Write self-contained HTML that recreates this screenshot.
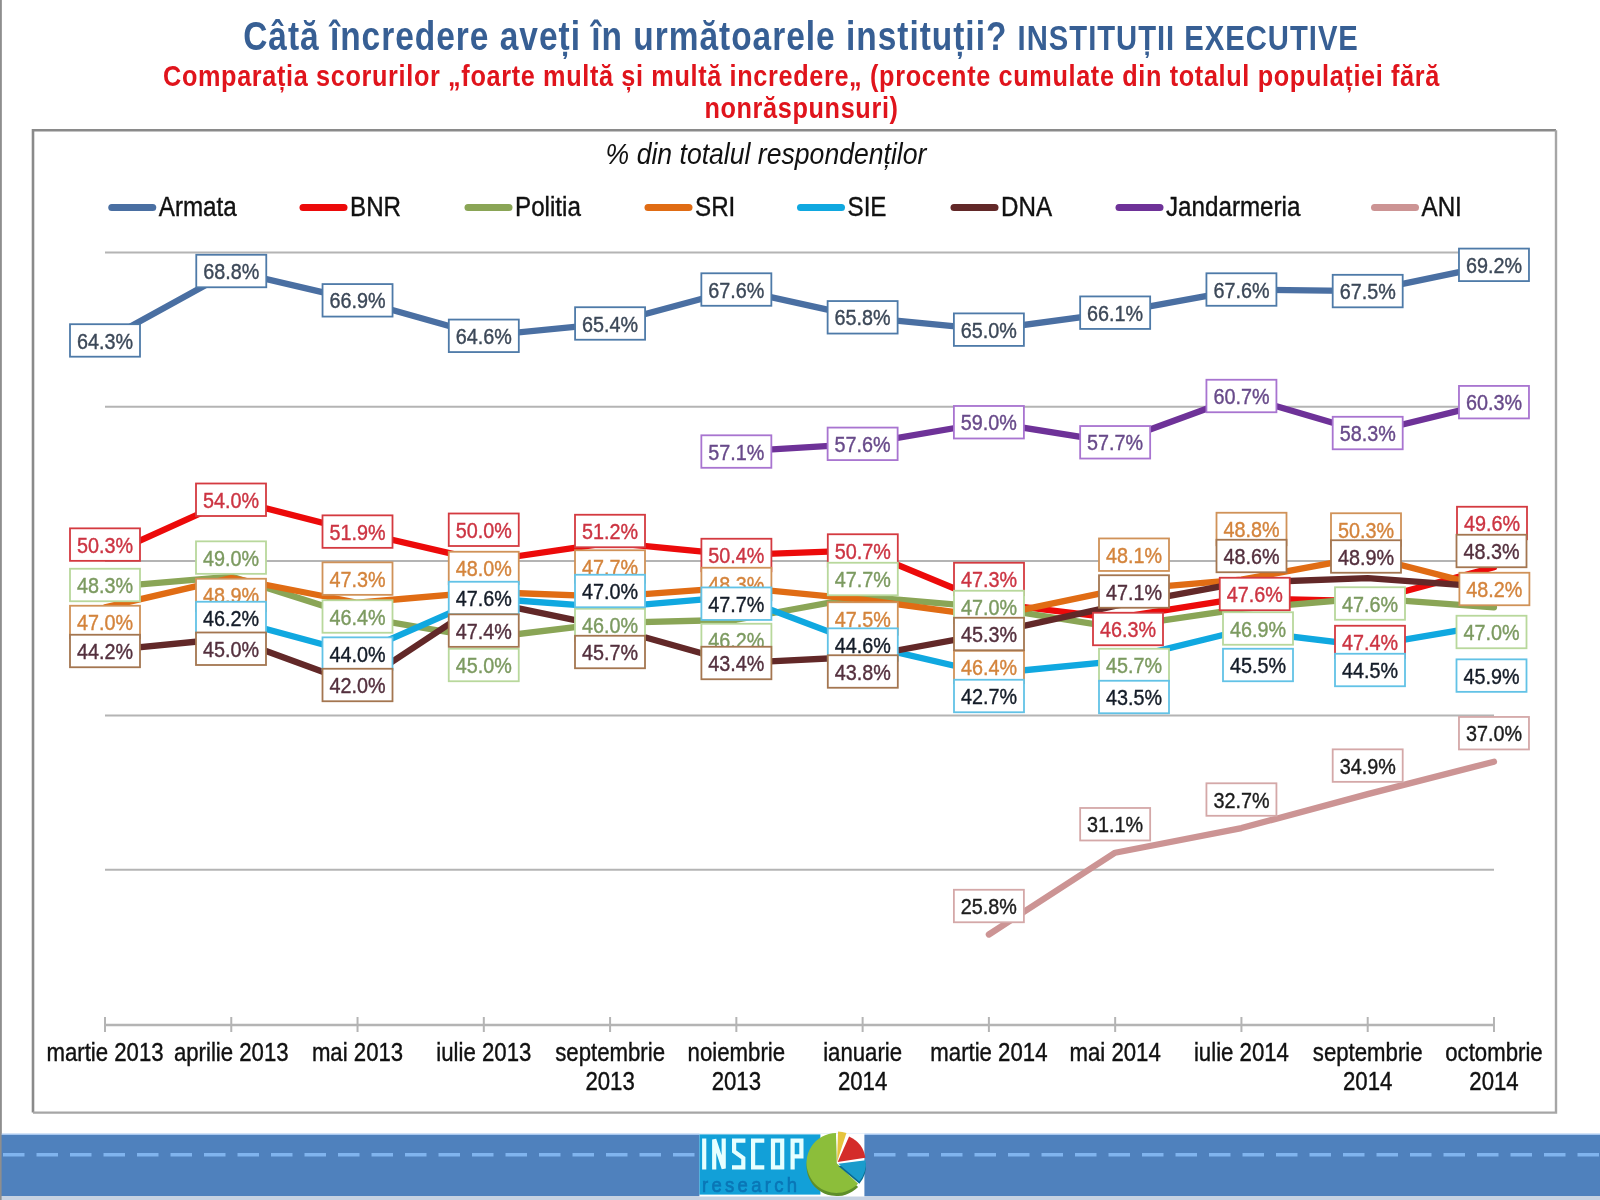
<!DOCTYPE html>
<html><head><meta charset="utf-8">
<style>
html,body{margin:0;padding:0;background:#fff;}
body{width:1600px;height:1200px;overflow:hidden;position:relative;font-family:"Liberation Sans",sans-serif;}
svg{position:absolute;left:0;top:0;filter:blur(0.55px);}
</style></head><body>
<svg width="1600" height="1200" viewBox="0 0 1600 1200" font-family="Liberation Sans, sans-serif">
<rect x="0" y="0" width="1.6" height="1200" fill="#8e8e8e"/>
<text transform="translate(801 50) scale(0.94 1.13)" text-anchor="middle" font-weight="bold" fill="#375f94" letter-spacing="1.05"><tspan font-size="35.6">Câtă încredere aveți în următoarele instituții? </tspan><tspan font-size="31.1">INSTITUȚII EXECUTIVE</tspan></text>
<text transform="translate(801.5 86) scale(0.95 1.13)" text-anchor="middle" font-weight="bold" font-size="26.6" fill="#e0141c" letter-spacing="0.68">Comparația scorurilor „foarte multă și multă incredere„ (procente cumulate din totalul populației fără</text>
<text transform="translate(801.5 117.5) scale(0.95 1.13)" text-anchor="middle" font-weight="bold" font-size="26.6" fill="#e0141c" letter-spacing="0.68">nonrăspunsuri)</text>
<rect x="33" y="130.2" width="1523" height="982.4" fill="#fff"/>
<path d="M33,1112.6 V130.2 H1556" fill="none" stroke="#8a8a8a" stroke-width="2.6"/>
<path d="M1556,130.2 V1112.6 H33" fill="none" stroke="#a6a6a6" stroke-width="2.4"/>
<text transform="translate(766 163.8) scale(1 1.13)" text-anchor="middle" font-style="italic" font-size="26.6" fill="#111">% din totalul respondenților</text>
<line x1="105" y1="252.50" x2="1494" y2="252.50" stroke="#b4b4b4" stroke-width="2"/>
<line x1="105" y1="406.80" x2="1494" y2="406.80" stroke="#b4b4b4" stroke-width="2"/>
<line x1="105" y1="561.10" x2="1494" y2="561.10" stroke="#b4b4b4" stroke-width="2"/>
<line x1="105" y1="715.40" x2="1494" y2="715.40" stroke="#b4b4b4" stroke-width="2"/>
<line x1="105" y1="869.70" x2="1494" y2="869.70" stroke="#b4b4b4" stroke-width="2"/>
<line x1="105" y1="1025.00" x2="1494" y2="1025.00" stroke="#b4b4b4" stroke-width="2.5"/>
<line x1="105.00" y1="1017.00" x2="105.00" y2="1032.00" stroke="#b4b4b4" stroke-width="2"/>
<line x1="231.27" y1="1017.00" x2="231.27" y2="1032.00" stroke="#b4b4b4" stroke-width="2"/>
<line x1="357.54" y1="1017.00" x2="357.54" y2="1032.00" stroke="#b4b4b4" stroke-width="2"/>
<line x1="483.81" y1="1017.00" x2="483.81" y2="1032.00" stroke="#b4b4b4" stroke-width="2"/>
<line x1="610.08" y1="1017.00" x2="610.08" y2="1032.00" stroke="#b4b4b4" stroke-width="2"/>
<line x1="736.35" y1="1017.00" x2="736.35" y2="1032.00" stroke="#b4b4b4" stroke-width="2"/>
<line x1="862.62" y1="1017.00" x2="862.62" y2="1032.00" stroke="#b4b4b4" stroke-width="2"/>
<line x1="988.89" y1="1017.00" x2="988.89" y2="1032.00" stroke="#b4b4b4" stroke-width="2"/>
<line x1="1115.16" y1="1017.00" x2="1115.16" y2="1032.00" stroke="#b4b4b4" stroke-width="2"/>
<line x1="1241.43" y1="1017.00" x2="1241.43" y2="1032.00" stroke="#b4b4b4" stroke-width="2"/>
<line x1="1367.70" y1="1017.00" x2="1367.70" y2="1032.00" stroke="#b4b4b4" stroke-width="2"/>
<line x1="1493.97" y1="1017.00" x2="1493.97" y2="1032.00" stroke="#b4b4b4" stroke-width="2"/>
<polyline points="105.00,340.45 231.27,271.02 357.54,300.33 483.81,335.82 610.08,323.48 736.35,289.53 862.62,317.31 988.89,329.65 1115.16,312.68 1241.43,289.53 1367.70,291.07 1493.97,264.84" fill="none" stroke="#4a6fa2" stroke-width="6.3" stroke-linejoin="round" stroke-linecap="round"/>
<polyline points="105.00,556.47 231.27,499.38 357.54,531.78 483.81,561.10 610.08,542.58 736.35,554.93 862.62,550.30 988.89,602.76 1115.16,618.19 1241.43,598.13 1367.70,601.22 1493.97,567.27" fill="none" stroke="#ec0a0a" stroke-width="6.3" stroke-linejoin="round" stroke-linecap="round"/>
<polyline points="105.00,587.33 231.27,576.53 357.54,616.65 483.81,638.25 610.08,622.82 736.35,619.73 862.62,596.59 988.89,607.39 1115.16,627.45 1241.43,608.93 1367.70,598.13 1493.97,607.39" fill="none" stroke="#8aa556" stroke-width="6.3" stroke-linejoin="round" stroke-linecap="round"/>
<polyline points="105.00,607.39 231.27,578.07 357.54,602.76 483.81,591.96 610.08,596.59 736.35,587.33 862.62,599.67 988.89,616.65 1115.16,590.42 1241.43,579.62 1367.70,556.47 1493.97,588.87" fill="none" stroke="#e06c14" stroke-width="6.3" stroke-linejoin="round" stroke-linecap="round"/>
<polyline points="231.27,619.73 357.54,653.68 483.81,598.13 610.08,607.39 736.35,596.59 862.62,644.42 988.89,673.74 1115.16,661.39 1241.43,630.53 1367.70,645.96 1493.97,624.36" fill="none" stroke="#10a8e0" stroke-width="6.3" stroke-linejoin="round" stroke-linecap="round"/>
<polyline points="105.00,650.59 231.27,638.25 357.54,684.54 483.81,601.22 610.08,627.45 736.35,662.94 862.62,656.77 988.89,633.62 1115.16,605.85 1241.43,582.70 1367.70,578.07 1493.97,587.33" fill="none" stroke="#622828" stroke-width="6.3" stroke-linejoin="round" stroke-linecap="round"/>
<polyline points="736.35,451.55 862.62,443.83 988.89,422.23 1115.16,442.29 1241.43,396.00 1367.70,433.03 1493.97,402.17" fill="none" stroke="#6e3298" stroke-width="6.3" stroke-linejoin="round" stroke-linecap="round"/>
<polyline points="988.89,934.51 1115.16,852.73 1241.43,828.04 1367.70,794.09 1493.97,761.69" fill="none" stroke="#cc9494" stroke-width="6.3" stroke-linejoin="round" stroke-linecap="round"/>
<rect x="70.00" y="324.20" width="70" height="32.5" fill="#fff" stroke="#4e7aa8" stroke-width="1.8"/>
<text transform="translate(105.00 348.53) scale(1 1.14)" font-size="19.8" fill="#3c4858" stroke="#3c4858" stroke-width="0.35" text-anchor="middle" >64.3%</text>
<rect x="196.27" y="254.77" width="70" height="32.5" fill="#fff" stroke="#4e7aa8" stroke-width="1.8"/>
<text transform="translate(231.27 279.10) scale(1 1.14)" font-size="19.8" fill="#3c4858" stroke="#3c4858" stroke-width="0.35" text-anchor="middle" >68.8%</text>
<rect x="322.54" y="284.08" width="70" height="32.5" fill="#fff" stroke="#4e7aa8" stroke-width="1.8"/>
<text transform="translate(357.54 308.41) scale(1 1.14)" font-size="19.8" fill="#3c4858" stroke="#3c4858" stroke-width="0.35" text-anchor="middle" >66.9%</text>
<rect x="448.81" y="319.57" width="70" height="32.5" fill="#fff" stroke="#4e7aa8" stroke-width="1.8"/>
<text transform="translate(483.81 343.90) scale(1 1.14)" font-size="19.8" fill="#3c4858" stroke="#3c4858" stroke-width="0.35" text-anchor="middle" >64.6%</text>
<rect x="575.08" y="307.23" width="70" height="32.5" fill="#fff" stroke="#4e7aa8" stroke-width="1.8"/>
<text transform="translate(610.08 331.56) scale(1 1.14)" font-size="19.8" fill="#3c4858" stroke="#3c4858" stroke-width="0.35" text-anchor="middle" >65.4%</text>
<rect x="701.35" y="273.28" width="70" height="32.5" fill="#fff" stroke="#4e7aa8" stroke-width="1.8"/>
<text transform="translate(736.35 297.61) scale(1 1.14)" font-size="19.8" fill="#3c4858" stroke="#3c4858" stroke-width="0.35" text-anchor="middle" >67.6%</text>
<rect x="827.62" y="301.06" width="70" height="32.5" fill="#fff" stroke="#4e7aa8" stroke-width="1.8"/>
<text transform="translate(862.62 325.39) scale(1 1.14)" font-size="19.8" fill="#3c4858" stroke="#3c4858" stroke-width="0.35" text-anchor="middle" >65.8%</text>
<rect x="953.89" y="313.40" width="70" height="32.5" fill="#fff" stroke="#4e7aa8" stroke-width="1.8"/>
<text transform="translate(988.89 337.73) scale(1 1.14)" font-size="19.8" fill="#3c4858" stroke="#3c4858" stroke-width="0.35" text-anchor="middle" >65.0%</text>
<rect x="1080.16" y="296.43" width="70" height="32.5" fill="#fff" stroke="#4e7aa8" stroke-width="1.8"/>
<text transform="translate(1115.16 320.76) scale(1 1.14)" font-size="19.8" fill="#3c4858" stroke="#3c4858" stroke-width="0.35" text-anchor="middle" >66.1%</text>
<rect x="1206.43" y="273.28" width="70" height="32.5" fill="#fff" stroke="#4e7aa8" stroke-width="1.8"/>
<text transform="translate(1241.43 297.61) scale(1 1.14)" font-size="19.8" fill="#3c4858" stroke="#3c4858" stroke-width="0.35" text-anchor="middle" >67.6%</text>
<rect x="1332.70" y="274.82" width="70" height="32.5" fill="#fff" stroke="#4e7aa8" stroke-width="1.8"/>
<text transform="translate(1367.70 299.16) scale(1 1.14)" font-size="19.8" fill="#3c4858" stroke="#3c4858" stroke-width="0.35" text-anchor="middle" >67.5%</text>
<rect x="1458.97" y="248.59" width="70" height="32.5" fill="#fff" stroke="#4e7aa8" stroke-width="1.8"/>
<text transform="translate(1493.97 272.92) scale(1 1.14)" font-size="19.8" fill="#3c4858" stroke="#3c4858" stroke-width="0.35" text-anchor="middle" >69.2%</text>
<rect x="70.00" y="528.35" width="70" height="32.5" fill="#fff" stroke="#d43a40" stroke-width="1.8"/>
<text transform="translate(105.00 552.68) scale(1 1.14)" font-size="19.8" fill="#cc3442" stroke="#cc3442" stroke-width="0.35" text-anchor="middle" >50.3%</text>
<rect x="196.00" y="483.50" width="70" height="32.5" fill="#fff" stroke="#d43a40" stroke-width="1.8"/>
<text transform="translate(231.00 507.83) scale(1 1.14)" font-size="19.8" fill="#cc3442" stroke="#cc3442" stroke-width="0.35" text-anchor="middle" >54.0%</text>
<rect x="322.50" y="515.35" width="70" height="32.5" fill="#fff" stroke="#d43a40" stroke-width="1.8"/>
<text transform="translate(357.50 539.68) scale(1 1.14)" font-size="19.8" fill="#cc3442" stroke="#cc3442" stroke-width="0.35" text-anchor="middle" >51.9%</text>
<rect x="448.75" y="513.50" width="70" height="32.5" fill="#fff" stroke="#d43a40" stroke-width="1.8"/>
<text transform="translate(483.75 537.83) scale(1 1.14)" font-size="19.8" fill="#cc3442" stroke="#cc3442" stroke-width="0.35" text-anchor="middle" >50.0%</text>
<rect x="575.00" y="514.75" width="70" height="32.5" fill="#fff" stroke="#d43a40" stroke-width="1.8"/>
<text transform="translate(610.00 539.08) scale(1 1.14)" font-size="19.8" fill="#cc3442" stroke="#cc3442" stroke-width="0.35" text-anchor="middle" >51.2%</text>
<rect x="701.40" y="538.75" width="70" height="32.5" fill="#fff" stroke="#d43a40" stroke-width="1.8"/>
<text transform="translate(736.40 563.08) scale(1 1.14)" font-size="19.8" fill="#cc3442" stroke="#cc3442" stroke-width="0.35" text-anchor="middle" >50.4%</text>
<rect x="827.80" y="534.25" width="70" height="32.5" fill="#fff" stroke="#d43a40" stroke-width="1.8"/>
<text transform="translate(862.80 558.58) scale(1 1.14)" font-size="19.8" fill="#cc3442" stroke="#cc3442" stroke-width="0.35" text-anchor="middle" >50.7%</text>
<rect x="954.00" y="562.75" width="70" height="32.5" fill="#fff" stroke="#d43a40" stroke-width="1.8"/>
<text transform="translate(989.00 587.08) scale(1 1.14)" font-size="19.8" fill="#cc3442" stroke="#cc3442" stroke-width="0.35" text-anchor="middle" >47.3%</text>
<rect x="1093.00" y="612.75" width="70" height="32.5" fill="#fff" stroke="#d43a40" stroke-width="1.8"/>
<text transform="translate(1128.00 637.08) scale(1 1.14)" font-size="19.8" fill="#cc3442" stroke="#cc3442" stroke-width="0.35" text-anchor="middle" >46.3%</text>
<rect x="1219.75" y="577.75" width="70" height="32.5" fill="#fff" stroke="#d43a40" stroke-width="1.8"/>
<text transform="translate(1254.75 602.08) scale(1 1.14)" font-size="19.8" fill="#cc3442" stroke="#cc3442" stroke-width="0.35" text-anchor="middle" >47.6%</text>
<rect x="1335.00" y="625.75" width="70" height="32.5" fill="#fff" stroke="#d43a40" stroke-width="1.8"/>
<text transform="translate(1370.00 650.08) scale(1 1.14)" font-size="19.8" fill="#cc3442" stroke="#cc3442" stroke-width="0.35" text-anchor="middle" >47.4%</text>
<rect x="1457.00" y="506.75" width="70" height="32.5" fill="#fff" stroke="#d43a40" stroke-width="1.8"/>
<text transform="translate(1492.00 531.08) scale(1 1.14)" font-size="19.8" fill="#cc3442" stroke="#cc3442" stroke-width="0.35" text-anchor="middle" >49.6%</text>
<rect x="70.00" y="568.75" width="70" height="32.5" fill="#fff" stroke="#b8d89c" stroke-width="1.8"/>
<text transform="translate(105.00 593.08) scale(1 1.14)" font-size="19.8" fill="#7c9a60" stroke="#7c9a60" stroke-width="0.35" text-anchor="middle" >48.3%</text>
<rect x="196.00" y="541.35" width="70" height="32.5" fill="#fff" stroke="#b8d89c" stroke-width="1.8"/>
<text transform="translate(231.00 565.68) scale(1 1.14)" font-size="19.8" fill="#7c9a60" stroke="#7c9a60" stroke-width="0.35" text-anchor="middle" >49.0%</text>
<rect x="322.50" y="600.25" width="70" height="32.5" fill="#fff" stroke="#b8d89c" stroke-width="1.8"/>
<text transform="translate(357.50 624.58) scale(1 1.14)" font-size="19.8" fill="#7c9a60" stroke="#7c9a60" stroke-width="0.35" text-anchor="middle" >46.4%</text>
<rect x="448.75" y="648.75" width="70" height="32.5" fill="#fff" stroke="#b8d89c" stroke-width="1.8"/>
<text transform="translate(483.75 673.08) scale(1 1.14)" font-size="19.8" fill="#7c9a60" stroke="#7c9a60" stroke-width="0.35" text-anchor="middle" >45.0%</text>
<rect x="575.00" y="608.75" width="70" height="32.5" fill="#fff" stroke="#b8d89c" stroke-width="1.8"/>
<text transform="translate(610.00 633.08) scale(1 1.14)" font-size="19.8" fill="#7c9a60" stroke="#7c9a60" stroke-width="0.35" text-anchor="middle" >46.0%</text>
<rect x="701.40" y="623.75" width="70" height="32.5" fill="#fff" stroke="#b8d89c" stroke-width="1.8"/>
<text transform="translate(736.40 648.08) scale(1 1.14)" font-size="19.8" fill="#7c9a60" stroke="#7c9a60" stroke-width="0.35" text-anchor="middle" >46.2%</text>
<rect x="827.80" y="562.75" width="70" height="32.5" fill="#fff" stroke="#b8d89c" stroke-width="1.8"/>
<text transform="translate(862.80 587.08) scale(1 1.14)" font-size="19.8" fill="#7c9a60" stroke="#7c9a60" stroke-width="0.35" text-anchor="middle" >47.7%</text>
<rect x="954.00" y="590.75" width="70" height="32.5" fill="#fff" stroke="#b8d89c" stroke-width="1.8"/>
<text transform="translate(989.00 615.08) scale(1 1.14)" font-size="19.8" fill="#7c9a60" stroke="#7c9a60" stroke-width="0.35" text-anchor="middle" >47.0%</text>
<rect x="1099.00" y="648.75" width="70" height="32.5" fill="#fff" stroke="#b8d89c" stroke-width="1.8"/>
<text transform="translate(1134.00 673.08) scale(1 1.14)" font-size="19.8" fill="#7c9a60" stroke="#7c9a60" stroke-width="0.35" text-anchor="middle" >45.7%</text>
<rect x="1223.00" y="612.25" width="70" height="32.5" fill="#fff" stroke="#b8d89c" stroke-width="1.8"/>
<text transform="translate(1258.00 636.58) scale(1 1.14)" font-size="19.8" fill="#7c9a60" stroke="#7c9a60" stroke-width="0.35" text-anchor="middle" >46.9%</text>
<rect x="1335.00" y="587.25" width="70" height="32.5" fill="#fff" stroke="#b8d89c" stroke-width="1.8"/>
<text transform="translate(1370.00 611.58) scale(1 1.14)" font-size="19.8" fill="#7c9a60" stroke="#7c9a60" stroke-width="0.35" text-anchor="middle" >47.6%</text>
<rect x="1456.50" y="615.75" width="70" height="32.5" fill="#fff" stroke="#b8d89c" stroke-width="1.8"/>
<text transform="translate(1491.50 640.08) scale(1 1.14)" font-size="19.8" fill="#7c9a60" stroke="#7c9a60" stroke-width="0.35" text-anchor="middle" >47.0%</text>
<rect x="70.00" y="605.75" width="70" height="32.5" fill="#fff" stroke="#d09258" stroke-width="1.8"/>
<text transform="translate(105.00 630.08) scale(1 1.14)" font-size="19.8" fill="#d4843c" stroke="#d4843c" stroke-width="0.35" text-anchor="middle" >47.0%</text>
<rect x="196.00" y="578.75" width="70" height="32.5" fill="#fff" stroke="#d09258" stroke-width="1.8"/>
<text transform="translate(231.00 603.08) scale(1 1.14)" font-size="19.8" fill="#d4843c" stroke="#d4843c" stroke-width="0.35" text-anchor="middle" >48.9%</text>
<rect x="322.50" y="562.35" width="70" height="32.5" fill="#fff" stroke="#d09258" stroke-width="1.8"/>
<text transform="translate(357.50 586.68) scale(1 1.14)" font-size="19.8" fill="#d4843c" stroke="#d4843c" stroke-width="0.35" text-anchor="middle" >47.3%</text>
<rect x="448.75" y="551.75" width="70" height="32.5" fill="#fff" stroke="#d09258" stroke-width="1.8"/>
<text transform="translate(483.75 576.08) scale(1 1.14)" font-size="19.8" fill="#d4843c" stroke="#d4843c" stroke-width="0.35" text-anchor="middle" >48.0%</text>
<rect x="575.00" y="550.25" width="70" height="32.5" fill="#fff" stroke="#d09258" stroke-width="1.8"/>
<text transform="translate(610.00 574.58) scale(1 1.14)" font-size="19.8" fill="#d4843c" stroke="#d4843c" stroke-width="0.35" text-anchor="middle" >47.7%</text>
<rect x="701.40" y="567.75" width="70" height="32.5" fill="#fff" stroke="#d09258" stroke-width="1.8"/>
<text transform="translate(736.40 592.08) scale(1 1.14)" font-size="19.8" fill="#d4843c" stroke="#d4843c" stroke-width="0.35" text-anchor="middle" >48.3%</text>
<rect x="827.80" y="602.25" width="70" height="32.5" fill="#fff" stroke="#d09258" stroke-width="1.8"/>
<text transform="translate(862.80 626.58) scale(1 1.14)" font-size="19.8" fill="#d4843c" stroke="#d4843c" stroke-width="0.35" text-anchor="middle" >47.5%</text>
<rect x="954.00" y="650.75" width="70" height="32.5" fill="#fff" stroke="#d09258" stroke-width="1.8"/>
<text transform="translate(989.00 675.08) scale(1 1.14)" font-size="19.8" fill="#d4843c" stroke="#d4843c" stroke-width="0.35" text-anchor="middle" >46.4%</text>
<rect x="1099.00" y="538.45" width="70" height="32.5" fill="#fff" stroke="#d09258" stroke-width="1.8"/>
<text transform="translate(1134.00 562.78) scale(1 1.14)" font-size="19.8" fill="#d4843c" stroke="#d4843c" stroke-width="0.35" text-anchor="middle" >48.1%</text>
<rect x="1216.50" y="512.75" width="70" height="32.5" fill="#fff" stroke="#d09258" stroke-width="1.8"/>
<text transform="translate(1251.50 537.08) scale(1 1.14)" font-size="19.8" fill="#d4843c" stroke="#d4843c" stroke-width="0.35" text-anchor="middle" >48.8%</text>
<rect x="1331.00" y="513.25" width="70" height="32.5" fill="#fff" stroke="#d09258" stroke-width="1.8"/>
<text transform="translate(1366.00 537.58) scale(1 1.14)" font-size="19.8" fill="#d4843c" stroke="#d4843c" stroke-width="0.35" text-anchor="middle" >50.3%</text>
<rect x="1459.40" y="572.75" width="70" height="32.5" fill="#fff" stroke="#d09258" stroke-width="1.8"/>
<text transform="translate(1494.40 597.08) scale(1 1.14)" font-size="19.8" fill="#d4843c" stroke="#d4843c" stroke-width="0.35" text-anchor="middle" >48.2%</text>
<rect x="196.00" y="601.75" width="70" height="32.5" fill="#fff" stroke="#62c2e6" stroke-width="1.8"/>
<text transform="translate(231.00 626.08) scale(1 1.14)" font-size="19.8" fill="#141c28" stroke="#141c28" stroke-width="0.35" text-anchor="middle" >46.2%</text>
<rect x="322.50" y="637.35" width="70" height="32.5" fill="#fff" stroke="#62c2e6" stroke-width="1.8"/>
<text transform="translate(357.50 661.68) scale(1 1.14)" font-size="19.8" fill="#141c28" stroke="#141c28" stroke-width="0.35" text-anchor="middle" >44.0%</text>
<rect x="448.75" y="581.75" width="70" height="32.5" fill="#fff" stroke="#62c2e6" stroke-width="1.8"/>
<text transform="translate(483.75 606.08) scale(1 1.14)" font-size="19.8" fill="#141c28" stroke="#141c28" stroke-width="0.35" text-anchor="middle" >47.6%</text>
<rect x="575.00" y="574.75" width="70" height="32.5" fill="#fff" stroke="#62c2e6" stroke-width="1.8"/>
<text transform="translate(610.00 599.08) scale(1 1.14)" font-size="19.8" fill="#141c28" stroke="#141c28" stroke-width="0.35" text-anchor="middle" >47.0%</text>
<rect x="701.40" y="587.45" width="70" height="32.5" fill="#fff" stroke="#62c2e6" stroke-width="1.8"/>
<text transform="translate(736.40 611.78) scale(1 1.14)" font-size="19.8" fill="#141c28" stroke="#141c28" stroke-width="0.35" text-anchor="middle" >47.7%</text>
<rect x="827.80" y="628.35" width="70" height="32.5" fill="#fff" stroke="#62c2e6" stroke-width="1.8"/>
<text transform="translate(862.80 652.68) scale(1 1.14)" font-size="19.8" fill="#141c28" stroke="#141c28" stroke-width="0.35" text-anchor="middle" >44.6%</text>
<rect x="954.00" y="679.75" width="70" height="32.5" fill="#fff" stroke="#62c2e6" stroke-width="1.8"/>
<text transform="translate(989.00 704.08) scale(1 1.14)" font-size="19.8" fill="#141c28" stroke="#141c28" stroke-width="0.35" text-anchor="middle" >42.7%</text>
<rect x="1099.00" y="680.75" width="70" height="32.5" fill="#fff" stroke="#62c2e6" stroke-width="1.8"/>
<text transform="translate(1134.00 705.08) scale(1 1.14)" font-size="19.8" fill="#141c28" stroke="#141c28" stroke-width="0.35" text-anchor="middle" >43.5%</text>
<rect x="1223.00" y="648.75" width="70" height="32.5" fill="#fff" stroke="#62c2e6" stroke-width="1.8"/>
<text transform="translate(1258.00 673.08) scale(1 1.14)" font-size="19.8" fill="#141c28" stroke="#141c28" stroke-width="0.35" text-anchor="middle" >45.5%</text>
<rect x="1335.00" y="653.75" width="70" height="32.5" fill="#fff" stroke="#62c2e6" stroke-width="1.8"/>
<text transform="translate(1370.00 678.08) scale(1 1.14)" font-size="19.8" fill="#141c28" stroke="#141c28" stroke-width="0.35" text-anchor="middle" >44.5%</text>
<rect x="1456.50" y="659.35" width="70" height="32.5" fill="#fff" stroke="#62c2e6" stroke-width="1.8"/>
<text transform="translate(1491.50 683.68) scale(1 1.14)" font-size="19.8" fill="#141c28" stroke="#141c28" stroke-width="0.35" text-anchor="middle" >45.9%</text>
<rect x="70.00" y="634.75" width="70" height="32.5" fill="#fff" stroke="#a47650" stroke-width="1.8"/>
<text transform="translate(105.00 659.08) scale(1 1.14)" font-size="19.8" fill="#54303e" stroke="#54303e" stroke-width="0.35" text-anchor="middle" >44.2%</text>
<rect x="196.00" y="632.50" width="70" height="32.5" fill="#fff" stroke="#a47650" stroke-width="1.8"/>
<text transform="translate(231.00 656.83) scale(1 1.14)" font-size="19.8" fill="#54303e" stroke="#54303e" stroke-width="0.35" text-anchor="middle" >45.0%</text>
<rect x="322.50" y="668.75" width="70" height="32.5" fill="#fff" stroke="#a47650" stroke-width="1.8"/>
<text transform="translate(357.50 693.08) scale(1 1.14)" font-size="19.8" fill="#54303e" stroke="#54303e" stroke-width="0.35" text-anchor="middle" >42.0%</text>
<rect x="448.75" y="614.35" width="70" height="32.5" fill="#fff" stroke="#a47650" stroke-width="1.8"/>
<text transform="translate(483.75 638.68) scale(1 1.14)" font-size="19.8" fill="#54303e" stroke="#54303e" stroke-width="0.35" text-anchor="middle" >47.4%</text>
<rect x="575.00" y="635.75" width="70" height="32.5" fill="#fff" stroke="#a47650" stroke-width="1.8"/>
<text transform="translate(610.00 660.08) scale(1 1.14)" font-size="19.8" fill="#54303e" stroke="#54303e" stroke-width="0.35" text-anchor="middle" >45.7%</text>
<rect x="701.40" y="646.75" width="70" height="32.5" fill="#fff" stroke="#a47650" stroke-width="1.8"/>
<text transform="translate(736.40 671.08) scale(1 1.14)" font-size="19.8" fill="#54303e" stroke="#54303e" stroke-width="0.35" text-anchor="middle" >43.4%</text>
<rect x="827.80" y="655.25" width="70" height="32.5" fill="#fff" stroke="#a47650" stroke-width="1.8"/>
<text transform="translate(862.80 679.58) scale(1 1.14)" font-size="19.8" fill="#54303e" stroke="#54303e" stroke-width="0.35" text-anchor="middle" >43.8%</text>
<rect x="954.00" y="617.75" width="70" height="32.5" fill="#fff" stroke="#a47650" stroke-width="1.8"/>
<text transform="translate(989.00 642.08) scale(1 1.14)" font-size="19.8" fill="#54303e" stroke="#54303e" stroke-width="0.35" text-anchor="middle" >45.3%</text>
<rect x="1099.00" y="575.25" width="70" height="32.5" fill="#fff" stroke="#a47650" stroke-width="1.8"/>
<text transform="translate(1134.00 599.58) scale(1 1.14)" font-size="19.8" fill="#54303e" stroke="#54303e" stroke-width="0.35" text-anchor="middle" >47.1%</text>
<rect x="1216.50" y="539.75" width="70" height="32.5" fill="#fff" stroke="#a47650" stroke-width="1.8"/>
<text transform="translate(1251.50 564.08) scale(1 1.14)" font-size="19.8" fill="#54303e" stroke="#54303e" stroke-width="0.35" text-anchor="middle" >48.6%</text>
<rect x="1331.00" y="540.25" width="70" height="32.5" fill="#fff" stroke="#a47650" stroke-width="1.8"/>
<text transform="translate(1366.00 564.58) scale(1 1.14)" font-size="19.8" fill="#54303e" stroke="#54303e" stroke-width="0.35" text-anchor="middle" >48.9%</text>
<rect x="1456.50" y="534.75" width="70" height="32.5" fill="#fff" stroke="#a47650" stroke-width="1.8"/>
<text transform="translate(1491.50 559.08) scale(1 1.14)" font-size="19.8" fill="#54303e" stroke="#54303e" stroke-width="0.35" text-anchor="middle" >48.3%</text>
<rect x="701.35" y="435.30" width="70" height="32.5" fill="#fff" stroke="#a874d0" stroke-width="1.8"/>
<text transform="translate(736.35 459.63) scale(1 1.14)" font-size="19.8" fill="#684a8a" stroke="#684a8a" stroke-width="0.35" text-anchor="middle" >57.1%</text>
<rect x="827.62" y="427.58" width="70" height="32.5" fill="#fff" stroke="#a874d0" stroke-width="1.8"/>
<text transform="translate(862.62 451.91) scale(1 1.14)" font-size="19.8" fill="#684a8a" stroke="#684a8a" stroke-width="0.35" text-anchor="middle" >57.6%</text>
<rect x="953.89" y="405.98" width="70" height="32.5" fill="#fff" stroke="#a874d0" stroke-width="1.8"/>
<text transform="translate(988.89 430.31) scale(1 1.14)" font-size="19.8" fill="#684a8a" stroke="#684a8a" stroke-width="0.35" text-anchor="middle" >59.0%</text>
<rect x="1080.16" y="426.04" width="70" height="32.5" fill="#fff" stroke="#a874d0" stroke-width="1.8"/>
<text transform="translate(1115.16 450.37) scale(1 1.14)" font-size="19.8" fill="#684a8a" stroke="#684a8a" stroke-width="0.35" text-anchor="middle" >57.7%</text>
<rect x="1206.43" y="379.75" width="70" height="32.5" fill="#fff" stroke="#a874d0" stroke-width="1.8"/>
<text transform="translate(1241.43 404.08) scale(1 1.14)" font-size="19.8" fill="#684a8a" stroke="#684a8a" stroke-width="0.35" text-anchor="middle" >60.7%</text>
<rect x="1332.70" y="416.78" width="70" height="32.5" fill="#fff" stroke="#a874d0" stroke-width="1.8"/>
<text transform="translate(1367.70 441.11) scale(1 1.14)" font-size="19.8" fill="#684a8a" stroke="#684a8a" stroke-width="0.35" text-anchor="middle" >58.3%</text>
<rect x="1458.97" y="385.92" width="70" height="32.5" fill="#fff" stroke="#a874d0" stroke-width="1.8"/>
<text transform="translate(1493.97 410.25) scale(1 1.14)" font-size="19.8" fill="#684a8a" stroke="#684a8a" stroke-width="0.35" text-anchor="middle" >60.3%</text>
<rect x="953.89" y="889.76" width="70" height="32.5" fill="#fff" stroke="#d4a8a8" stroke-width="1.8"/>
<text transform="translate(988.89 914.09) scale(1 1.14)" font-size="19.8" fill="#1c1c1c" stroke="#1c1c1c" stroke-width="0.35" text-anchor="middle" >25.8%</text>
<rect x="1080.16" y="807.98" width="70" height="32.5" fill="#fff" stroke="#d4a8a8" stroke-width="1.8"/>
<text transform="translate(1115.16 832.31) scale(1 1.14)" font-size="19.8" fill="#1c1c1c" stroke="#1c1c1c" stroke-width="0.35" text-anchor="middle" >31.1%</text>
<rect x="1206.43" y="783.29" width="70" height="32.5" fill="#fff" stroke="#d4a8a8" stroke-width="1.8"/>
<text transform="translate(1241.43 807.62) scale(1 1.14)" font-size="19.8" fill="#1c1c1c" stroke="#1c1c1c" stroke-width="0.35" text-anchor="middle" >32.7%</text>
<rect x="1332.70" y="749.34" width="70" height="32.5" fill="#fff" stroke="#d4a8a8" stroke-width="1.8"/>
<text transform="translate(1367.70 773.67) scale(1 1.14)" font-size="19.8" fill="#1c1c1c" stroke="#1c1c1c" stroke-width="0.35" text-anchor="middle" >34.9%</text>
<rect x="1458.97" y="716.94" width="70" height="32.5" fill="#fff" stroke="#d4a8a8" stroke-width="1.8"/>
<text transform="translate(1493.97 741.27) scale(1 1.14)" font-size="19.8" fill="#1c1c1c" stroke="#1c1c1c" stroke-width="0.35" text-anchor="middle" >37.0%</text>
<line x1="111.75" y1="207.5" x2="152.75" y2="207.5" stroke="#4a6fa2" stroke-width="7" stroke-linecap="round"/>
<text transform="translate(158.75 215.80) scale(1 1.14)" font-size="24.2" fill="#111" stroke="#111" stroke-width="0.35" text-anchor="start" >Armata</text>
<line x1="303.00" y1="207.5" x2="344.00" y2="207.5" stroke="#ec0a0a" stroke-width="7" stroke-linecap="round"/>
<text transform="translate(350.00 215.80) scale(1 1.14)" font-size="24.2" fill="#111" stroke="#111" stroke-width="0.35" text-anchor="start" >BNR</text>
<line x1="468.00" y1="207.5" x2="509.00" y2="207.5" stroke="#8aa556" stroke-width="7" stroke-linecap="round"/>
<text transform="translate(515.00 215.80) scale(1 1.14)" font-size="24.2" fill="#111" stroke="#111" stroke-width="0.35" text-anchor="start" >Politia</text>
<line x1="648.00" y1="207.5" x2="689.00" y2="207.5" stroke="#e06c14" stroke-width="7" stroke-linecap="round"/>
<text transform="translate(695.00 215.80) scale(1 1.14)" font-size="24.2" fill="#111" stroke="#111" stroke-width="0.35" text-anchor="start" >SRI</text>
<line x1="800.50" y1="207.5" x2="841.50" y2="207.5" stroke="#10a8e0" stroke-width="7" stroke-linecap="round"/>
<text transform="translate(847.50 215.80) scale(1 1.14)" font-size="24.2" fill="#111" stroke="#111" stroke-width="0.35" text-anchor="start" >SIE</text>
<line x1="954.00" y1="207.5" x2="995.00" y2="207.5" stroke="#622828" stroke-width="7" stroke-linecap="round"/>
<text transform="translate(1001.00 215.80) scale(1 1.14)" font-size="24.2" fill="#111" stroke="#111" stroke-width="0.35" text-anchor="start" >DNA</text>
<line x1="1119.00" y1="207.5" x2="1160.00" y2="207.5" stroke="#6e3298" stroke-width="7" stroke-linecap="round"/>
<text transform="translate(1166.00 215.80) scale(1 1.14)" font-size="24.2" fill="#111" stroke="#111" stroke-width="0.35" text-anchor="start" >Jandarmeria</text>
<line x1="1374.50" y1="207.5" x2="1415.50" y2="207.5" stroke="#cc9494" stroke-width="7" stroke-linecap="round"/>
<text transform="translate(1421.50 215.80) scale(1 1.14)" font-size="24.2" fill="#111" stroke="#111" stroke-width="0.35" text-anchor="start" >ANI</text>
<text transform="translate(105.00 1060.80) scale(1 1.14)" font-size="22.2" fill="#111" stroke="#111" stroke-width="0.35" text-anchor="middle" >martie 2013</text>
<text transform="translate(231.27 1060.80) scale(1 1.14)" font-size="22.2" fill="#111" stroke="#111" stroke-width="0.35" text-anchor="middle" >aprilie 2013</text>
<text transform="translate(357.54 1060.80) scale(1 1.14)" font-size="22.2" fill="#111" stroke="#111" stroke-width="0.35" text-anchor="middle" >mai 2013</text>
<text transform="translate(483.81 1060.80) scale(1 1.14)" font-size="22.2" fill="#111" stroke="#111" stroke-width="0.35" text-anchor="middle" >iulie 2013</text>
<text transform="translate(610.08 1060.80) scale(1 1.14)" font-size="22.2" fill="#111" stroke="#111" stroke-width="0.35" text-anchor="middle" >septembrie</text>
<text transform="translate(610.08 1089.80) scale(1 1.14)" font-size="22.2" fill="#111" stroke="#111" stroke-width="0.35" text-anchor="middle" >2013</text>
<text transform="translate(736.35 1060.80) scale(1 1.14)" font-size="22.2" fill="#111" stroke="#111" stroke-width="0.35" text-anchor="middle" >noiembrie</text>
<text transform="translate(736.35 1089.80) scale(1 1.14)" font-size="22.2" fill="#111" stroke="#111" stroke-width="0.35" text-anchor="middle" >2013</text>
<text transform="translate(862.62 1060.80) scale(1 1.14)" font-size="22.2" fill="#111" stroke="#111" stroke-width="0.35" text-anchor="middle" >ianuarie</text>
<text transform="translate(862.62 1089.80) scale(1 1.14)" font-size="22.2" fill="#111" stroke="#111" stroke-width="0.35" text-anchor="middle" >2014</text>
<text transform="translate(988.89 1060.80) scale(1 1.14)" font-size="22.2" fill="#111" stroke="#111" stroke-width="0.35" text-anchor="middle" >martie 2014</text>
<text transform="translate(1115.16 1060.80) scale(1 1.14)" font-size="22.2" fill="#111" stroke="#111" stroke-width="0.35" text-anchor="middle" >mai 2014</text>
<text transform="translate(1241.43 1060.80) scale(1 1.14)" font-size="22.2" fill="#111" stroke="#111" stroke-width="0.35" text-anchor="middle" >iulie 2014</text>
<text transform="translate(1367.70 1060.80) scale(1 1.14)" font-size="22.2" fill="#111" stroke="#111" stroke-width="0.35" text-anchor="middle" >septembrie</text>
<text transform="translate(1367.70 1089.80) scale(1 1.14)" font-size="22.2" fill="#111" stroke="#111" stroke-width="0.35" text-anchor="middle" >2014</text>
<text transform="translate(1493.97 1060.80) scale(1 1.14)" font-size="22.2" fill="#111" stroke="#111" stroke-width="0.35" text-anchor="middle" >octombrie</text>
<text transform="translate(1493.97 1089.80) scale(1 1.14)" font-size="22.2" fill="#111" stroke="#111" stroke-width="0.35" text-anchor="middle" >2014</text>
<rect x="0" y="1135" width="1600" height="61" fill="#4f81bd"/>
<rect x="0" y="1196" width="1600" height="4" fill="#c6d2e2"/>
<rect x="0" y="1133.5" width="1600" height="1.5" fill="#a8c8f0"/>
<rect x="3.00" y="1153" width="21.5" height="3.5" fill="#80b4ee"/>
<rect x="36.50" y="1153" width="21.5" height="3.5" fill="#80b4ee"/>
<rect x="70.00" y="1153" width="21.5" height="3.5" fill="#80b4ee"/>
<rect x="103.50" y="1153" width="21.5" height="3.5" fill="#80b4ee"/>
<rect x="137.00" y="1153" width="21.5" height="3.5" fill="#80b4ee"/>
<rect x="170.50" y="1153" width="21.5" height="3.5" fill="#80b4ee"/>
<rect x="204.00" y="1153" width="21.5" height="3.5" fill="#80b4ee"/>
<rect x="237.50" y="1153" width="21.5" height="3.5" fill="#80b4ee"/>
<rect x="271.00" y="1153" width="21.5" height="3.5" fill="#80b4ee"/>
<rect x="304.50" y="1153" width="21.5" height="3.5" fill="#80b4ee"/>
<rect x="338.00" y="1153" width="21.5" height="3.5" fill="#80b4ee"/>
<rect x="371.50" y="1153" width="21.5" height="3.5" fill="#80b4ee"/>
<rect x="405.00" y="1153" width="21.5" height="3.5" fill="#80b4ee"/>
<rect x="438.50" y="1153" width="21.5" height="3.5" fill="#80b4ee"/>
<rect x="472.00" y="1153" width="21.5" height="3.5" fill="#80b4ee"/>
<rect x="505.50" y="1153" width="21.5" height="3.5" fill="#80b4ee"/>
<rect x="539.00" y="1153" width="21.5" height="3.5" fill="#80b4ee"/>
<rect x="572.50" y="1153" width="21.5" height="3.5" fill="#80b4ee"/>
<rect x="606.00" y="1153" width="21.5" height="3.5" fill="#80b4ee"/>
<rect x="639.50" y="1153" width="21.5" height="3.5" fill="#80b4ee"/>
<rect x="673.00" y="1153" width="21.5" height="3.5" fill="#80b4ee"/>
<rect x="706.50" y="1153" width="21.5" height="3.5" fill="#80b4ee"/>
<rect x="740.00" y="1153" width="21.5" height="3.5" fill="#80b4ee"/>
<rect x="773.50" y="1153" width="21.5" height="3.5" fill="#80b4ee"/>
<rect x="807.00" y="1153" width="21.5" height="3.5" fill="#80b4ee"/>
<rect x="840.50" y="1153" width="21.5" height="3.5" fill="#80b4ee"/>
<rect x="874.00" y="1153" width="21.5" height="3.5" fill="#80b4ee"/>
<rect x="907.50" y="1153" width="21.5" height="3.5" fill="#80b4ee"/>
<rect x="941.00" y="1153" width="21.5" height="3.5" fill="#80b4ee"/>
<rect x="974.50" y="1153" width="21.5" height="3.5" fill="#80b4ee"/>
<rect x="1008.00" y="1153" width="21.5" height="3.5" fill="#80b4ee"/>
<rect x="1041.50" y="1153" width="21.5" height="3.5" fill="#80b4ee"/>
<rect x="1075.00" y="1153" width="21.5" height="3.5" fill="#80b4ee"/>
<rect x="1108.50" y="1153" width="21.5" height="3.5" fill="#80b4ee"/>
<rect x="1142.00" y="1153" width="21.5" height="3.5" fill="#80b4ee"/>
<rect x="1175.50" y="1153" width="21.5" height="3.5" fill="#80b4ee"/>
<rect x="1209.00" y="1153" width="21.5" height="3.5" fill="#80b4ee"/>
<rect x="1242.50" y="1153" width="21.5" height="3.5" fill="#80b4ee"/>
<rect x="1276.00" y="1153" width="21.5" height="3.5" fill="#80b4ee"/>
<rect x="1309.50" y="1153" width="21.5" height="3.5" fill="#80b4ee"/>
<rect x="1343.00" y="1153" width="21.5" height="3.5" fill="#80b4ee"/>
<rect x="1376.50" y="1153" width="21.5" height="3.5" fill="#80b4ee"/>
<rect x="1410.00" y="1153" width="21.5" height="3.5" fill="#80b4ee"/>
<rect x="1443.50" y="1153" width="21.5" height="3.5" fill="#80b4ee"/>
<rect x="1477.00" y="1153" width="21.5" height="3.5" fill="#80b4ee"/>
<rect x="1510.50" y="1153" width="21.5" height="3.5" fill="#80b4ee"/>
<rect x="1544.00" y="1153" width="21.5" height="3.5" fill="#80b4ee"/>
<rect x="1577.50" y="1153" width="21.5" height="3.5" fill="#80b4ee"/>
<g id="logo">
<rect x="699.4" y="1133.5" width="165" height="63" fill="#ffffff"/>
<rect x="699.4" y="1134.4" width="121" height="60.2" fill="#12a0d8"/>
<g fill="none" stroke="#e6ffff" stroke-width="4.2" stroke-linejoin="miter" stroke-linecap="butt">
<path d="M704.2,1138.5 V1169.5"/>
<path d="M714.2,1169.5 V1139.5 L723.7,1168.5 V1138.5"/>
<path d="M745.4,1140.6 H734.1 V1151.5 L743.3,1158 V1167.4 H732"/>
<path d="M764.3,1140.6 H753.1 V1167.4 H764.3"/>
<rect x="773" y="1140.6" width="9.2" height="26.8"/>
<path d="M792.6,1169.5 V1140.6 H801.4 V1156.4 H792.6"/>
</g>
<text transform="translate(702 1192) scale(1 1.12)" font-size="18.5" fill="#0a76b6" stroke="#0a76b6" stroke-width="0.6" textLength="95" lengthAdjust="spacing">research</text>
<g transform="translate(836.5 1162.9)">
<path d="M0.00,3.20 L21.58,24.04 A30,30 0 1 1 -0.52,-26.80 Z" fill="#5e8e2a"/>
<path d="M0.00,0.00 L21.58,20.84 A30,30 0 1 1 -0.52,-30.00 Z" fill="#8cbe3a"/>
<path d="M0.50,-0.80 L1.56,-31.28 A30.5,30.5 0 0 1 9.93,-29.81 Z" fill="#e6c43e"/>
<path d="M1.20,-0.80 L12.59,-26.38 A28,28 0 0 1 28.86,-5.18 Z" fill="#d42c2a"/>
<path d="M1.80,3.20 L29.10,-0.15 A27.5,27.5 0 0 1 22.87,20.88 Z" fill="#0a6a8e"/>
<path d="M1.80,0.80 L29.10,-2.55 A27.5,27.5 0 0 1 22.87,18.48 Z" fill="#1a9ccc"/>
</g>
</g>
<rect x="0" y="0" width="1.6" height="1200" fill="#8e8e8e"/>
</svg>
</body></html>
